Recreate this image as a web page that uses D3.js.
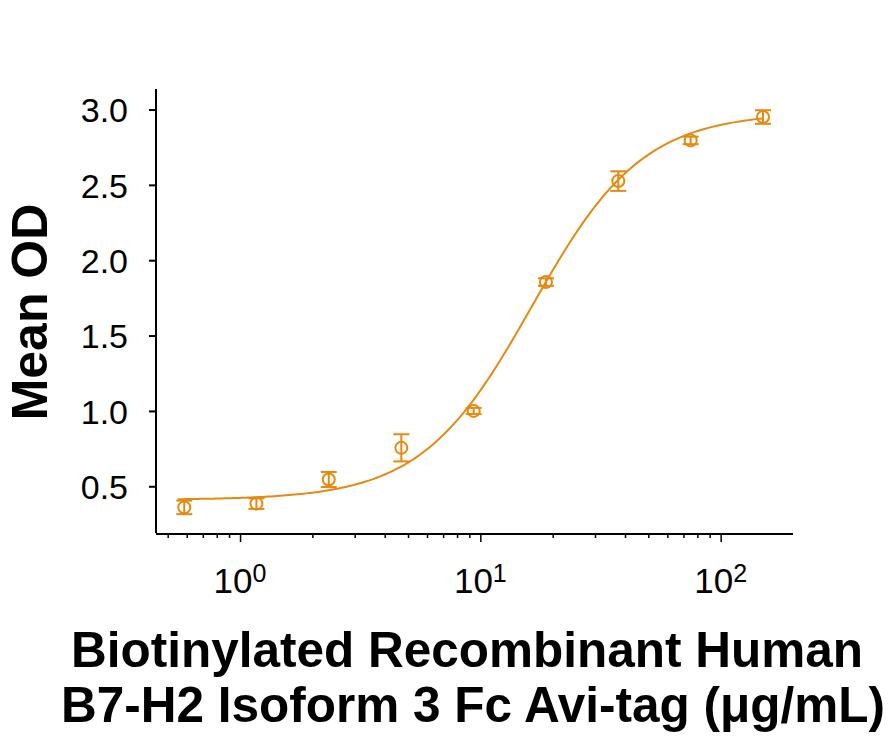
<!DOCTYPE html>
<html>
<head>
<meta charset="utf-8">
<script src="https://cdn.jsdelivr.net/npm/d3@7"></script>
<style>
  body { margin: 0; background: #fff; }
  text { font-family: "Liberation Sans", Arial, sans-serif; fill: #000; }
</style>
</head>
<body>
<svg id="chart"></svg>
<script>
// data
const concentrations = [0.586, 1.17, 2.34, 4.69, 9.38, 18.75, 37.5, 75, 150];
const meanOD = [0.36, 0.385, 0.545, 0.755, 1.0, 1.855, 2.525, 2.795, 2.95];
const errOD = [0.045, 0.035, 0.05, 0.09, 0.02, 0.025, 0.065, 0.025, 0.045];

const yTicks = [0.5, 1.0, 1.5, 2.0, 2.5, 3.0];
const xMajorTicks = [1, 10, 100];
const xMinorTicks = [0.5, 0.6, 0.7, 0.8, 0.9, 2, 3, 4, 5, 6, 7, 8, 9, 20, 30, 40, 50, 60, 70, 80, 90];

// 4-parameter logistic fit (estimated from the drawn curve)
const fitBottom = 0.41;
const fitTop = 2.98;
const fitEC50 = 16.4;
const fitHill = 1.886;
const fitRange = [0.55, 150];

const width = 892;
const height = 742;
const orange = "#E8890F";

const svg = d3.select("#chart")
    .attr("width", width)
    .attr("height", height);

// scales
const x = d3.scaleLog()
    .domain([0.447, 200])
    .range([156, 793]);

const y = d3.scaleLinear()
    .domain([0.19, 3.136])
    .range([533, 89]);

// y axis
const yAxis = d3.axisLeft(y)
    .tickValues(yTicks)
    .tickFormat(d3.format(".1f"))
    .tickSize(7)
    .tickPadding(21);

const gy = svg.append("g")
    .attr("transform", "translate(156,0)")
    .call(yAxis);
gy.select(".domain").attr("stroke-width", 2).attr("d", "M0," + y.range()[0] + "V" + y.range()[1]);
gy.selectAll(".tick line").attr("stroke-width", 2);
gy.selectAll(".tick text")
    .style("font-size", "34px")
    .attr("dy", "0.36em");

// x axis
const gx = svg.append("g")
    .attr("transform", "translate(0,534)");

gx.append("g")
    .call(d3.axisBottom(x).tickValues(xMinorTicks).tickSize(4).tickFormat(""))
    .call(g => g.select(".domain").remove())
    .selectAll(".tick line").attr("stroke-width", 1.5);

const gxMajor = gx.append("g")
    .call(d3.axisBottom(x).tickValues(xMajorTicks).tickSize(8).tickFormat(""));
gxMajor.select(".domain").attr("stroke-width", 2).attr("d", "M" + x.range()[0] + ",0H" + x.range()[1]);
gxMajor.selectAll(".tick line").attr("stroke-width", 1.5);

const xLabels = gx.selectAll(".xlab")
    .data(xMajorTicks)
    .enter()
    .append("text")
    .attr("class", "xlab")
    .attr("x", d => x(d))
    .attr("y", 59)
    .attr("text-anchor", "middle")
    .style("font-size", "35px");
xLabels.append("tspan").text("10");
xLabels.append("tspan")
    .attr("dy", "-0.45em")
    .style("font-size", "25px")
    .text(d => Math.round(Math.log10(d)));

// fitted curve
const curveX = d3.range(0, 201).map(i => fitRange[0] * Math.pow(fitRange[1] / fitRange[0], i / 200));
const fit = c => fitTop + (fitBottom - fitTop) / (1 + Math.pow(c / fitEC50, fitHill));

svg.append("path")
    .datum(curveX)
    .attr("fill", "none")
    .attr("stroke", orange)
    .attr("stroke-width", 2)
    .attr("d", d3.line().x(d => x(d)).y(d => y(fit(d))));

// points with error bars
const pts = svg.append("g")
    .selectAll("g")
    .data(concentrations)
    .enter()
    .append("g")
    .attr("stroke", orange)
    .attr("stroke-width", 2)
    .attr("fill", "none");

pts.append("line")
    .attr("x1", d => x(d)).attr("x2", d => x(d))
    .attr("y1", (d, i) => y(meanOD[i] - errOD[i]))
    .attr("y2", (d, i) => y(meanOD[i] + errOD[i]));
pts.append("line")
    .attr("x1", d => x(d) - 8).attr("x2", d => x(d) + 8)
    .attr("y1", (d, i) => y(meanOD[i] + errOD[i]))
    .attr("y2", (d, i) => y(meanOD[i] + errOD[i]));
pts.append("line")
    .attr("x1", d => x(d) - 8).attr("x2", d => x(d) + 8)
    .attr("y1", (d, i) => y(meanOD[i] - errOD[i]))
    .attr("y2", (d, i) => y(meanOD[i] - errOD[i]));
pts.append("circle")
    .attr("cx", d => x(d))
    .attr("cy", (d, i) => y(meanOD[i]))
    .attr("r", 6);

// axis titles
svg.append("text")
    .attr("transform", "translate(47,312) rotate(-90)")
    .attr("text-anchor", "middle")
    .style("font-size", "50px")
    .style("font-weight", "bold")
    .text("Mean OD");

svg.append("text")
    .attr("x", 467)
    .attr("y", 667)
    .attr("text-anchor", "middle")
    .style("font-size", "49.5px")
    .style("font-weight", "bold")
    .text("Biotinylated Recombinant Human");

svg.append("text")
    .attr("x", 473)
    .attr("y", 722)
    .attr("text-anchor", "middle")
    .style("font-size", "49.5px")
    .style("font-weight", "bold")
    .text("B7-H2 Isoform 3 Fc Avi-tag (μg/mL)");
</script>
</body>
</html>
